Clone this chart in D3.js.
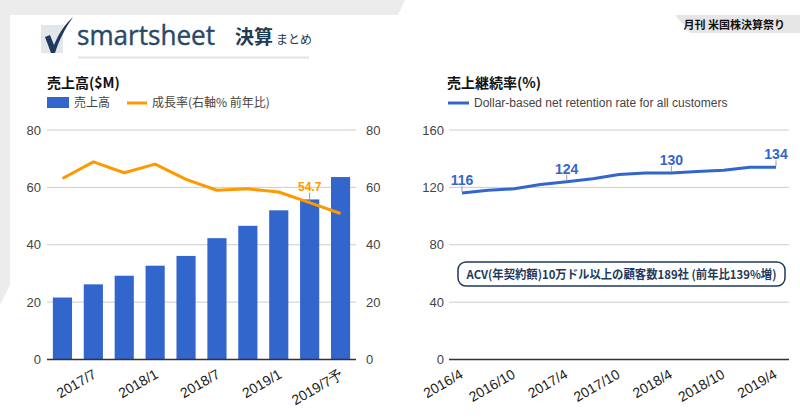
<!DOCTYPE html>
<html><head><meta charset="utf-8">
<script src="https://cdn.jsdelivr.net/npm/d3@7/dist/d3.min.js"></script>
<style>
html,body{margin:0;padding:0;background:#fff;}
svg{display:block;}
</style></head>
<body>
<svg id="c" width="800" height="419"></svg>
<script>
// ---- data ----
const revCategories = ["2017/4","2017/7","2017/10","2018/1","2018/4","2018/7","2018/10","2019/1","2019/4","2019/7予"];
const revenue = [21.6, 26.2, 29.2, 32.7, 36.1, 42.3, 46.6, 52.0, 55.8, 63.6];
const growth = [63.1, 68.9, 65.1, 68.1, 62.8, 59.0, 59.5, 58.4, 54.7, 50.9];
const growthLabelIndex = 8;
const leftTicks = [0, 20, 40, 60, 80];

const nrrCategories = ["2016/4","2016/7","2016/10","2017/1","2017/4","2017/7","2017/10","2018/1","2018/4","2018/7","2018/10","2019/1","2019/4"];
const nrr = [116, 118, 119, 122, 124, 126, 129, 130, 130, 131, 132, 134, 134];
const nrrLabelIdx = [0, 4, 8, 12];
const rightTicks = [0, 40, 80, 120, 160];

const svg = d3.select("#c");
const FONT = "'Liberation Sans', Arial, sans-serif";
const JP = "'Noto Sans CJK JP', 'Noto Sans', sans-serif";

// ---- decorative background ----
svg.append("path").attr("d","M0,0 L405,0 L398,15 L10,15 L10,285 L0,305 Z").attr("fill","#ececec");
// top-right tag
svg.append("path").attr("d","M675,15 L800,15 L800,33 L690,33 Z").attr("fill","#e6e6e6");
svg.append("text").attr("x",785).attr("y",29).attr("text-anchor","end")
  .attr("font-family",JP).attr("font-weight","bold").attr("font-size",11).attr("fill","#111")
  .text("月刊 米国株決算祭り");

// logo
svg.append("rect").attr("x",41).attr("y",25).attr("width",22).attr("height",28).attr("fill","#e4e6e9");
svg.append("path").attr("d","M45,37 L50,35 L54,45 C59,33 65,24 73,17 C66,27 59,40 55,53 L51,53 Z").attr("fill","#1e3a5c");
svg.append("text").attr("x",77).attr("y",45).attr("font-family","'Open Sans', sans-serif")
  .attr("font-size",27).attr("fill","#2a4868").attr("stroke","#2a4868").attr("stroke-width",0.4)
  .attr("textLength",138).attr("lengthAdjust","spacingAndGlyphs").text("smartsheet");
svg.append("text").attr("x",235).attr("y",44).attr("font-family",JP).attr("font-weight","bold")
  .attr("font-size",19).attr("fill","#1f3a55").text("決算");
svg.append("text").attr("x",276).attr("y",44).attr("font-family",JP)
  .attr("font-size",12).attr("fill","#1f3a55").text("まとめ");
svg.append("line").attr("x1",78).attr("x2",309).attr("y1",57.5).attr("y2",57.5).attr("stroke","#dfe4ea").attr("stroke-width",2);

// ---- left chart ----
const yL = d3.scaleLinear().domain([0,80]).range([359.5,130]);
const xL = d3.scaleBand().domain(revCategories).range([47,356]).paddingInner(0.38).paddingOuter(0.19);
const gL = svg.append("g");

gL.append("text").attr("x",47).attr("y",88).attr("font-family",JP).attr("font-weight","bold")
  .attr("font-size",14).attr("fill","#111").text("売上高($M)");
gL.append("rect").attr("x",47).attr("y",97).attr("width",22).attr("height",11).attr("fill","#3366cc");
gL.append("text").attr("x",74).attr("y",107).attr("font-family",JP).attr("font-size",12).attr("fill","#444").text("売上高");
gL.append("line").attr("x1",127).attr("x2",147).attr("y1",103).attr("y2",103).attr("stroke","#ff9900").attr("stroke-width",3);
gL.append("text").attr("x",152).attr("y",107).attr("font-family",JP).attr("font-size",12).attr("fill","#444").text("成長率(右軸% 前年比)");

// gridlines
gL.selectAll(".gl").data(leftTicks.filter(d=>d>0)).join("line")
  .attr("x1",47).attr("x2",356).attr("y1",d=>yL(d)).attr("y2",d=>yL(d)).attr("stroke","#cccccc");
// axis labels
const axL = gL.append("g").attr("transform","translate(41,0)").call(d3.axisLeft(yL).tickValues(leftTicks).tickSize(0).tickPadding(0));
axL.select(".domain").remove();
axL.selectAll("text").attr("font-family",FONT).attr("font-size",13).attr("fill","#444");
const axR = gL.append("g").attr("transform","translate(366,0)").call(d3.axisRight(yL).tickValues(leftTicks).tickSize(0).tickPadding(0));
axR.select(".domain").remove();
axR.selectAll("text").attr("font-family",FONT).attr("font-size",13).attr("fill","#444");

// bars
gL.selectAll(".bar").data(revenue).join("rect")
  .attr("x",(d,i)=>xL(revCategories[i])).attr("width",xL.bandwidth())
  .attr("y",d=>yL(d)).attr("height",d=>yL(0)-yL(d)).attr("fill","#3366cc");
// baseline
gL.append("line").attr("x1",47).attr("x2",356).attr("y1",yL(0)).attr("y2",yL(0)).attr("stroke","#333").attr("stroke-width",1.5);

// growth line
const cx = i => xL(revCategories[i]) + xL.bandwidth()/2;
gL.append("path").datum(growth)
  .attr("d", d3.line().x((d,i)=>cx(i)).y(d=>yL(d)))
  .attr("fill","none").attr("stroke","#ff9900").attr("stroke-width",3).attr("stroke-linejoin","round");
{
  const i = growthLabelIndex, px = cx(i), py = yL(growth[i]);
  gL.append("line").attr("x1",px).attr("x2",px).attr("y1",py-1).attr("y2",py-10).attr("stroke","#999").attr("stroke-width",1);
  gL.append("text").attr("x",px).attr("y",py-12).attr("text-anchor","middle")
    .attr("font-family",FONT).attr("font-weight","bold").attr("font-size",12).attr("fill","#ff9900")
    .text(growth[i].toFixed(1));
}
// x labels
gL.selectAll(".xl").data(revCategories.filter((d,i)=>i%2===1)).join("text")
  .attr("transform",d=>`translate(${xL(d)+xL.bandwidth()/2+4},${377}) rotate(-30)`)
  .attr("text-anchor","end").attr("font-family",FONT).attr("font-size",14).attr("fill","#222").text(d=>d);

// ---- right chart ----
const yR = d3.scaleLinear().domain([0,160]).range([359.5,130]);
const xR = d3.scalePoint().domain(nrrCategories).range([462,776]);
const gR = svg.append("g");

gR.append("text").attr("x",447).attr("y",88).attr("font-family",JP).attr("font-weight","bold")
  .attr("font-size",14).attr("fill","#111").text("売上継続率(%)");
gR.append("line").attr("x1",448).attr("x2",469).attr("y1",103).attr("y2",103).attr("stroke","#3366cc").attr("stroke-width",3);
gR.append("text").attr("x",474).attr("y",107).attr("font-family",FONT).attr("font-size",12).attr("fill","#444")
  .text("Dollar-based net retention rate for all customers");

gR.selectAll(".gl").data(rightTicks.filter(d=>d>0)).join("line")
  .attr("x1",449).attr("x2",789).attr("y1",d=>yR(d)).attr("y2",d=>yR(d)).attr("stroke","#cccccc");
const axR2 = gR.append("g").attr("transform","translate(444,0)").call(d3.axisLeft(yR).tickValues(rightTicks).tickSize(0).tickPadding(0));
axR2.select(".domain").remove();
axR2.selectAll("text").attr("font-family",FONT).attr("font-size",13).attr("fill","#444");
gR.append("line").attr("x1",449).attr("x2",789).attr("y1",yR(0)).attr("y2",yR(0)).attr("stroke","#333").attr("stroke-width",1.5);

gR.append("path").datum(nrr)
  .attr("d", d3.line().x((d,i)=>xR(nrrCategories[i])).y(d=>yR(d)))
  .attr("fill","none").attr("stroke","#3366cc").attr("stroke-width",3).attr("stroke-linejoin","round");
nrrLabelIdx.forEach(i=>{
  const px = xR(nrrCategories[i]), py = yR(nrr[i]);
  gR.append("line").attr("x1",px).attr("x2",px).attr("y1",py-1).attr("y2",py-7).attr("stroke","#999").attr("stroke-width",1);
  gR.append("text").attr("x",px).attr("y",py-8).attr("text-anchor","middle")
    .attr("font-family",FONT).attr("font-weight","bold").attr("font-size",14).attr("fill","#3366cc").text(nrr[i]);
});
gR.selectAll(".xl").data(nrrCategories.filter((d,i)=>i%2===0)).join("text")
  .attr("transform",d=>`translate(${xR(d)+2},${377}) rotate(-30)`)
  .attr("text-anchor","end").attr("font-family",FONT).attr("font-size",14).attr("fill","#222").text(d=>d);

// annotation
gR.append("rect").attr("x",458).attr("y",262).attr("width",327).attr("height",24).attr("rx",8)
  .attr("fill","#fff").attr("stroke","#1f3a5f").attr("stroke-width",1.5);
gR.append("text").attr("x",621.5).attr("y",278.5).attr("text-anchor","middle")
  .attr("font-family",JP).attr("font-weight","bold").attr("font-size",12).attr("fill","#1f3a5f")
  .attr("textLength",310).attr("lengthAdjust","spacingAndGlyphs")
  .text("ACV(年契約額)10万ドル以上の顧客数189社 (前年比139%増)");
</script>
</body></html>
